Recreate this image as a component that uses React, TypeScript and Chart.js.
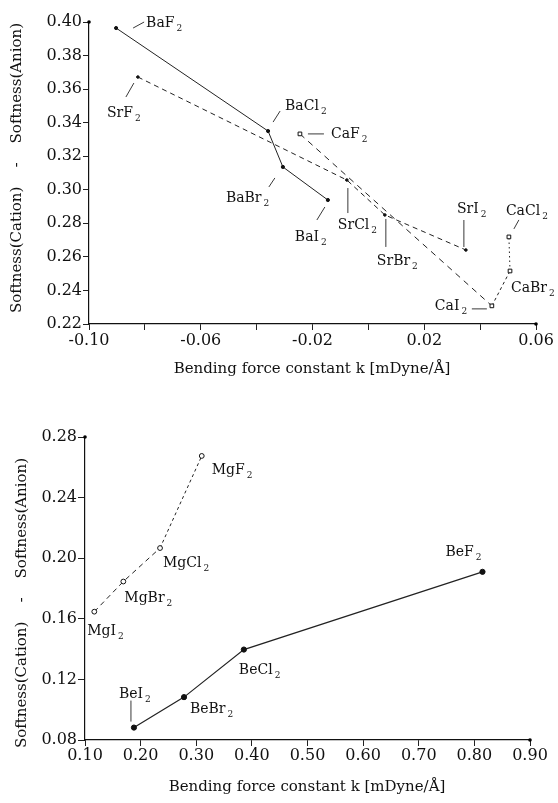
import React, { useEffect, useRef } from 'react';
import { Chart, registerables } from 'chart.js';

Chart.register(...registerables);

const FONT = '"DejaVu Serif", serif';

// ---------- Top chart data (Ba, Sr, Ca halides) ----------
const baNames = ['BaF2', 'BaCl2', 'BaBr2', 'BaI2'];
const baK = [-0.0903, -0.0359, -0.0306, -0.0145];
const baS = [0.3964, 0.3350, 0.3136, 0.2939];

const srNames = ['SrF2', 'SrCl2', 'SrBr2', 'SrI2'];
const srK = [-0.0825, -0.0077, 0.0059, 0.0349];
const srS = [0.3672, 0.3058, 0.2850, 0.2641];

// connected in the drawn order: F -> I -> Br -> Cl
const caNames = ['CaF2', 'CaI2', 'CaBr2', 'CaCl2'];
const caK = [-0.0245, 0.0442, 0.0507, 0.0503];
const caS = [0.3333, 0.2308, 0.2516, 0.2719];

const topXMin = -0.1, topXMax = 0.06, topXStep = 0.02;
const topYMin = 0.22, topYMax = 0.40, topYStep = 0.02;

// ---------- Bottom chart data (Mg, Be halides) ----------
const mgNames = ['MgI2', 'MgBr2', 'MgCl2', 'MgF2'];
const mgK = [0.1167, 0.1689, 0.2349, 0.3099];
const mgS = [0.1647, 0.1846, 0.2067, 0.2675];

const beNames = ['BeI2', 'BeBr2', 'BeCl2', 'BeF2'];
const beK = [0.188, 0.278, 0.3856, 0.8146];
const beS = [0.0882, 0.1083, 0.1397, 0.1910];

const botXMin = 0.1, botXMax = 0.9, botXStep = 0.1;
const botYMin = 0.08, botYMax = 0.28, botYStep = 0.04;

const xTitle = 'Bending force constant k [mDyne/Å]';
const yTitle = 'Softness(Cation)    -    Softness(Anion)';

// ---------- label placement (pixel offsets relative to each point) ----------
const baLabelOff = [[30, -1], [17, -21], [-57, 35], [-33, 41]];
const baLeader = [[17, 0, 28, -6], [5, -9, 12, -20], [-14, 20, -8, 11], [-11, 20, -3, 7]];
const srLabelOff = [[-31, 40], [-9, 49], [-8, 50], [-9, -37]];
const srLeader = [[-12, 20, -4, 6], [1, 8, 1, 33], [1, 4, 1, 32], [-2, -30, -2, -3]];
const caLabelOff = [[31, 4], [-57, 4], [1, 21], [-3, -22]];
const caLeader = [[8, 0, 24, 0], [-20, 3, -5, 3], null, [5, -8, 10, -17]];
const mgLabelOff = [[-7, 23], [1, 20], [3, 19], [10, 18]];
const mgLeader = [null, null, null, null];
const beLabelOff = [[-15, -30], [6, 16], [-5, 24], [-37, -16]];
const beLeader = [[-3, -27, -3, -6], null, null, null];

function pts(k: number[], s: number[]) {
  return k.map((v, i) => ({ x: v, y: s[i] }));
}

function drawFormula(ctx: CanvasRenderingContext2D, name: string, x: number, y: number) {
  const m = name.match(/^(.*?)(\d*)$/);
  const main = m ? m[1] : name;
  const sub = m ? m[2] : '';
  ctx.font = `14px ${FONT}`;
  ctx.textAlign = 'left';
  ctx.textBaseline = 'alphabetic';
  ctx.fillText(main, x, y);
  if (sub) {
    const w = ctx.measureText(main).width;
    ctx.font = `9px ${FONT}`;
    ctx.fillText(sub, x + w + 2, y + 4);
  }
}

type SeriesAnn = { names: string[]; k: number[]; s: number[]; off: number[][]; lead: (number[] | null)[] };

function makeAnnot(series: SeriesAnn[], yT: [number, number], xT: [number, number]) {
  return {
    id: 'annot',
    afterDraw(chart: any) {
      const ctx: CanvasRenderingContext2D = chart.ctx;
      const xs = chart.scales.x;
      const ys = chart.scales.y;
      ctx.save();
      ctx.fillStyle = '#111';
      ctx.strokeStyle = '#222';
      ctx.lineWidth = 0.9;
      series.forEach((sr) => {
        sr.names.forEach((nm, i) => {
          const px = xs.getPixelForValue(sr.k[i]);
          const py = ys.getPixelForValue(sr.s[i]);
          const o = sr.off[i];
          drawFormula(ctx, nm, px + o[0], py + o[1]);
          const l = sr.lead[i];
          if (l) {
            ctx.beginPath();
            ctx.moveTo(px + l[0], py + l[1]);
            ctx.lineTo(px + l[2], py + l[3]);
            ctx.stroke();
          }
        });
      });
      // axis end dots
      const ca = chart.chartArea;
      ctx.fillStyle = '#000';
      ctx.beginPath();
      ctx.arc(ca.left, ca.top, 1.8, 0, Math.PI * 2);
      ctx.fill();
      ctx.beginPath();
      ctx.arc(ca.right, ca.bottom, 1.8, 0, Math.PI * 2);
      ctx.fill();
      // titles
      ctx.fillStyle = '#111';
      ctx.font = `15px ${FONT}`;
      ctx.textAlign = 'center';
      ctx.textBaseline = 'middle';
      ctx.fillText(xTitle, xT[0], xT[1]);
      ctx.translate(yT[0], yT[1]);
      ctx.rotate(-Math.PI / 2);
      ctx.fillText(yTitle, 0, 0);
      ctx.restore();
    },
  };
}

function axisOpts(min: number, max: number, step: number, fit: (s: any) => void, opts: any) {
  return {
    type: 'linear',
    min,
    max,
    afterFit: fit,
    border: { display: true, color: '#111', width: 1.2 },
    grid: { drawOnChartArea: false, drawTicks: true, tickLength: opts.tickLength, color: '#222', lineWidth: 1 },
    ticks: {
      stepSize: step,
      padding: opts.padding,
      color: '#111',
      font: { family: FONT, size: 16 },
      callback: opts.cb,
    },
  };
}

function topConfig(): any {
  const common = { showLine: true, borderColor: '#222', borderWidth: 1, pointBorderColor: '#111', pointBorderWidth: 1 };
  return {
    type: 'scatter',
    data: {
      datasets: [
        { ...common, data: pts(baK, baS), pointStyle: 'circle', pointRadius: 1.6, pointBackgroundColor: '#111' },
        { ...common, data: pts(srK, srS), borderDash: [5, 4], pointStyle: 'circle', pointRadius: 1.3, pointBackgroundColor: '#111' },
        {
          ...common,
          data: pts(caK, caS),
          pointStyle: 'rect',
          pointRadius: 2.6,
          pointBackgroundColor: '#fff',
          segment: {
            borderDash: (c: any) => (c.p0DataIndex === 0 ? [6, 5] : c.p0DataIndex === 1 ? [3, 3] : [1.5, 3]),
          },
        },
      ],
    },
    options: {
      responsive: false,
      animation: false,
      events: [],
      layout: { padding: { left: 0, top: 22, right: 22, bottom: 0 } },
      plugins: { legend: { display: false }, tooltip: { enabled: false }, title: { display: false } },
      scales: {
        x: axisOpts(topXMin, topXMax, topXStep, (s: any) => { s.height = 76; }, {
          tickLength: 6,
          padding: 1,
          cb: (v: number, i: number) => (i % 2 === 0 ? v.toFixed(2) : ''),
        }),
        y: axisOpts(topYMin, topYMax, topYStep, (s: any) => { s.width = 89; }, {
          tickLength: 6,
          padding: 1,
          cb: (v: number) => v.toFixed(2),
        }),
      },
    },
    plugins: [
      makeAnnot(
        [
          { names: baNames, k: baK, s: baS, off: baLabelOff, lead: baLeader },
          { names: srNames, k: srK, s: srS, off: srLabelOff, lead: srLeader },
          { names: caNames, k: caK, s: caS, off: caLabelOff, lead: caLeader },
        ],
        [17, 168],
        [312, 369]
      ),
    ],
  };
}

function bottomConfig(): any {
  const common = { showLine: true, borderColor: '#222', borderWidth: 1, pointBorderColor: '#111', pointBorderWidth: 1 };
  return {
    type: 'scatter',
    data: {
      datasets: [
        {
          ...common,
          data: pts(mgK, mgS),
          pointStyle: 'circle',
          pointRadius: 2.4,
          pointBackgroundColor: '#fff',
          segment: { borderDash: (c: any) => (c.p0DataIndex < 2 ? [5, 4] : [3, 3]) },
        },
        { ...common, data: pts(beK, beS), pointStyle: 'circle', pointRadius: 2.6, pointBackgroundColor: '#111', borderWidth: 1.2 },
      ],
    },
    options: {
      responsive: false,
      animation: false,
      events: [],
      layout: { padding: { left: 0, top: 37, right: 28, bottom: 0 } },
      plugins: { legend: { display: false }, tooltip: { enabled: false }, title: { display: false } },
      scales: {
        x: axisOpts(botXMin, botXMax, botXStep, (s: any) => { s.height = 63; }, {
          tickLength: 6,
          padding: 0,
          cb: (v: number) => v.toFixed(2),
        }),
        y: axisOpts(botYMin, botYMax, botYStep, (s: any) => { s.width = 85; }, {
          tickLength: 7,
          padding: 1,
          cb: (v: number) => v.toFixed(2),
        }),
      },
    },
    plugins: [
      makeAnnot(
        [
          { names: mgNames, k: mgK, s: mgS, off: mgLabelOff, lead: mgLeader },
          { names: beNames, k: beK, s: beS, off: beLabelOff, lead: beLeader },
        ],
        [22, 203],
        [307, 387]
      ),
    ],
  };
}

export default function App() {
  const topRef = useRef<HTMLCanvasElement | null>(null);
  const botRef = useRef<HTMLCanvasElement | null>(null);

  useEffect(() => {
    const c1 = new Chart(topRef.current as HTMLCanvasElement, topConfig());
    const c2 = new Chart(botRef.current as HTMLCanvasElement, bottomConfig());
    return () => {
      c1.destroy();
      c2.destroy();
    };
  }, []);

  return (
    <div style={{ position: 'absolute', left: 0, top: 0, width: 558, height: 803, background: '#fff' }}>
      <canvas ref={topRef} width={558} height={400} style={{ position: 'absolute', left: 0, top: 0, width: 558, height: 400 }} />
      <canvas ref={botRef} width={558} height={403} style={{ position: 'absolute', left: 0, top: 400, width: 558, height: 403 }} />
    </div>
  );
}
